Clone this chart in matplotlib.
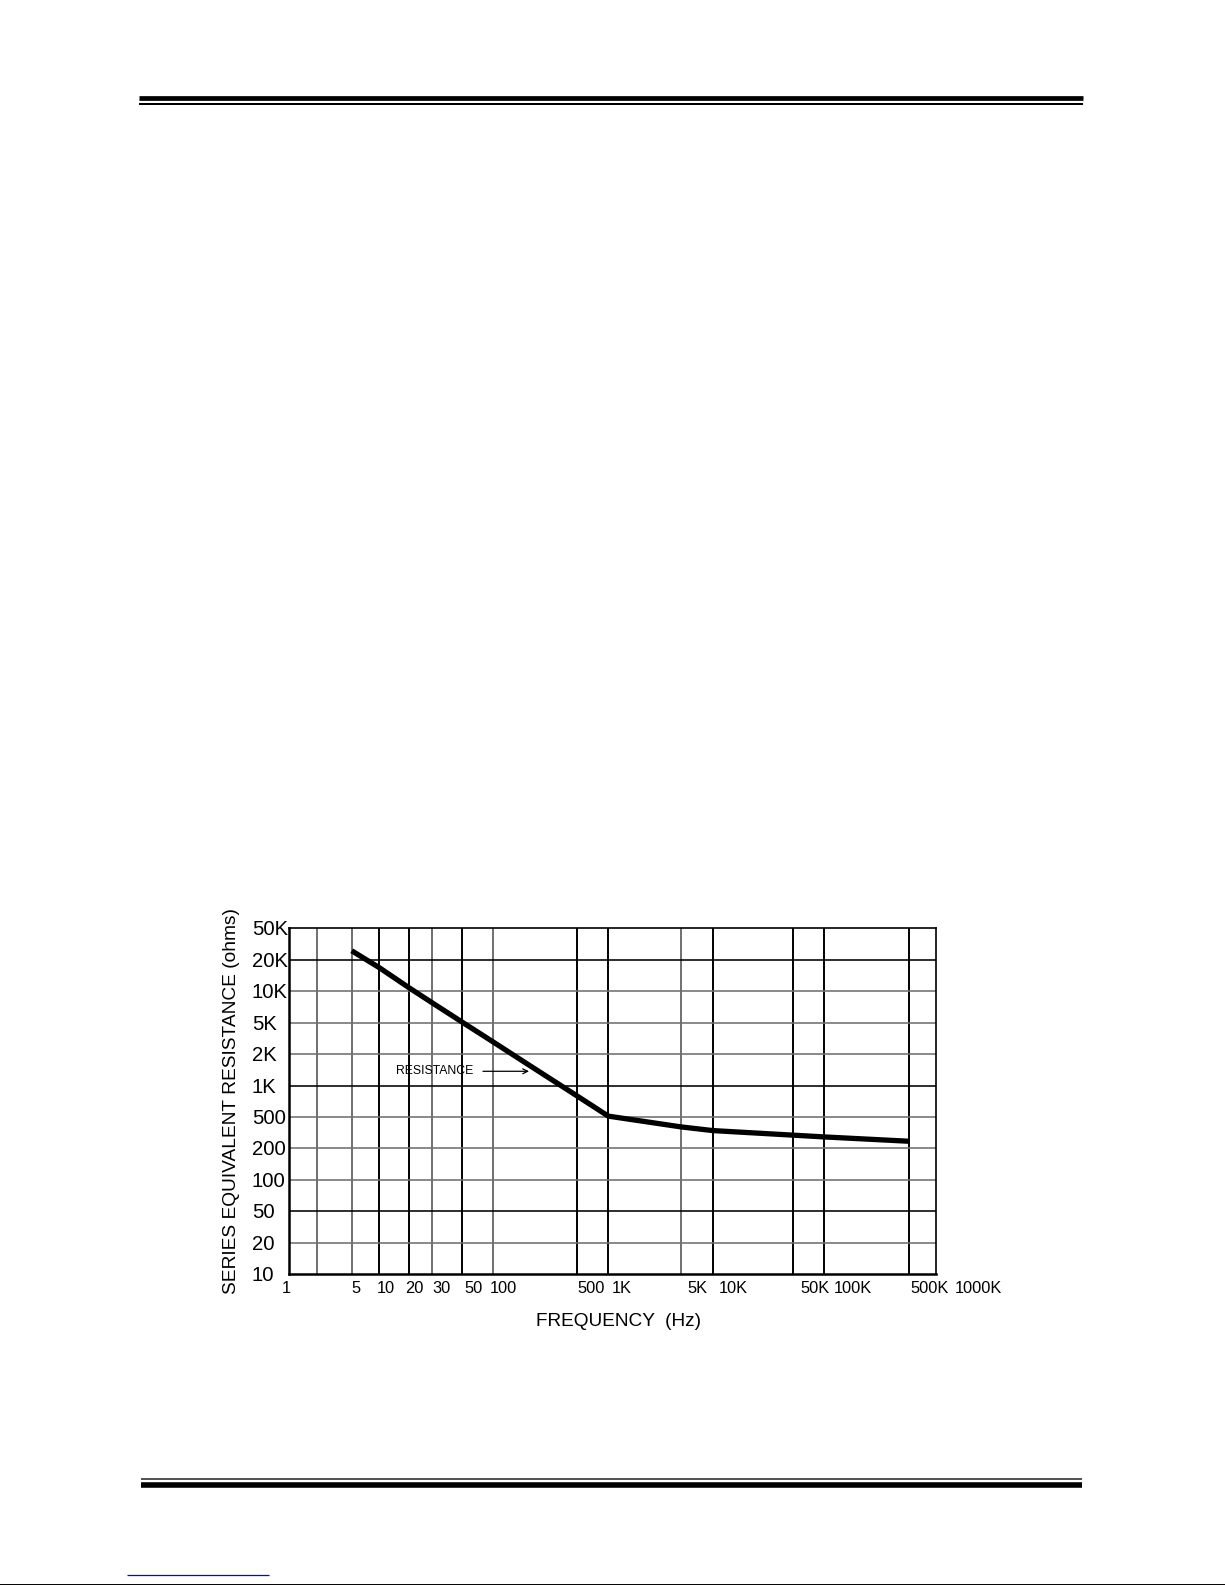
import numpy as np
import matplotlib
matplotlib.use('Agg')
import matplotlib.pyplot as plt
from matplotlib.lines import Line2D
from matplotlib.scale import FuncScale
from matplotlib import transforms

plt.rcParams['font.family'] = ['Liberation Sans', 'DejaVu Sans']

# resistance curve
freq = [5, 10, 20, 30, 50, 100, 200, 500, 1000, 5000, 10000, 50000, 100000, 500000]
res = [26000, 16800, 10800, 7800, 5050, 2860, 1570, 800, 510, 375, 337, 295, 280, 247]

# y rows are evenly spaced (1-2-5 steps)
y_ticks = [10, 20, 50, 100, 200, 500, 1000, 2000, 5000, 10000, 20000, 50000]
y_labels = ['10', '20', '50', '100', '200', '500', '1K', '2K', '5K', '10K', '20K', '50K']
y_dark = [50, 1000, 20000]

# x grid of the chart paper (not a clean log scale)
x_grid = [1, 2, 5, 10, 20, 30, 50, 100, 500, 1000, 5000, 10000, 50000, 100000, 500000, 1000000]
x_dark = [10, 20, 50, 500, 1000, 10000, 50000, 100000, 500000]
x_ticks = [1, 5, 10, 20, 30, 50, 100, 500, 1000, 5000, 10000, 50000, 100000, 500000, 1000000]
x_labels = ['1', '5', '10', '20', '30', '50', '100', '500', '1K', '5K', '10K', '50K', '100K', '500K', '1000K']

# layout (pixels)
W, H = 1225, 1585
x_grid_px = [0, 27.7, 62.7, 90.3, 120, 142.7, 173.3, 204, 287.7, 319.3, 392, 423.7, 503.7, 535.3, 619.7, 647]
x_label_nudge = [-7, -0.7, -3, -4, 1, 1.7, -3, 0.3, 3.7, 6.5, 5.8, 7.8, 9.4, 1.3, 19]


def fx(px):
    return px / W


def fy(py):
    return 1 - py / H


lx = np.log10(x_grid)
px_frac = np.array(x_grid_px) / 647.0
ly = np.log10(y_ticks)
row = np.arange(len(y_ticks))


def xf(v):
    return np.interp(np.log10(np.clip(v, 1e-9, None)), lx, px_frac)


def xi(u):
    return 10 ** np.interp(u, px_frac, lx)


def yf(v):
    return np.interp(np.log10(np.clip(v, 1e-9, None)), ly, row)


def yi(u):
    return 10 ** np.interp(u, row, ly)


fig = plt.figure(figsize=(W / 100, H / 100), dpi=100)
ax = fig.add_axes([fx(289), fy(1274.3), fx(647), 346 / H])
ax.set_xscale(FuncScale(ax.xaxis, (xf, xi)))
ax.set_yscale(FuncScale(ax.yaxis, (yf, yi)))
ax.set_xlim(1, 1000000)
ax.set_ylim(10, 50000)

gray = '#707070'
for g in x_grid[1:-1]:
    ax.axvline(g, color='black' if g in x_dark else gray, lw=1.4, zorder=1)
for g in y_ticks[1:-1]:
    ax.axhline(g, color='black' if g in y_dark else gray, lw=1.15, zorder=1)

ax.plot(freq, res, color='black', lw=3.8, solid_capstyle='butt', solid_joinstyle='round', zorder=3)

ax.annotate('RESISTANCE', xy=(200, 1370), xytext=(-68, 0), textcoords='offset points',
            ha='center', va='center', fontsize=8.8,
            arrowprops=dict(arrowstyle='->', lw=0.9, color='black', shrinkA=5, shrinkB=0))

ax.set_xticks([])
ax.set_yticks([])
ax.xaxis.set_minor_locator(matplotlib.ticker.NullLocator())
ax.yaxis.set_minor_locator(matplotlib.ticker.NullLocator())

# y labels are left aligned in a column left of the grid
yblend = transforms.blended_transform_factory(ax.transAxes, ax.transData)
for t, lab in zip(y_ticks, y_labels):
    tr = yblend + transforms.ScaledTranslation(-37.3 / 100, -1.5 / 100, fig.dpi_scale_trans)
    ax.text(0, t, lab, transform=tr, ha='left', va='center', fontsize=14.6)

xblend = transforms.blended_transform_factory(ax.transData, ax.transAxes)
for t, lab, dx in zip(x_ticks, x_labels, x_label_nudge):
    tr = xblend + transforms.ScaledTranslation(dx / 100, -6.5 / 100, fig.dpi_scale_trans)
    ax.text(t, 0, lab, transform=tr, ha='left', va='top', fontsize=11.8)

for s in ['left', 'bottom']:
    ax.spines[s].set_linewidth(1.8)
for s in ['top', 'right']:
    ax.spines[s].set_linewidth(1.2)

fig.text(fx(618), fy(1322), 'FREQUENCY  (Hz)', ha='center', va='center', fontsize=13.7)
fig.text(fx(231), fy(1101), 'SERIES EQUIVALENT RESISTANCE (ohms)', rotation=90,
         ha='center', va='center', fontsize=13.8)

# page rules
fig.add_artist(Line2D([fx(139.3), fx(1082.7)], [fy(98.3), fy(98.3)], color='black', lw=3.4, solid_capstyle='butt'))
fig.add_artist(Line2D([fx(139.3), fx(1082.7)], [fy(103.7), fy(103.7)], color='black', lw=1.44, solid_capstyle='butt'))
fig.add_artist(Line2D([fx(140.7), fx(1082)], [fy(1479), fy(1479)], color='#555555', lw=1.44, solid_capstyle='butt'))
fig.add_artist(Line2D([fx(140.7), fx(1082)], [fy(1484.5), fy(1484.5)], color='black', lw=4.0, solid_capstyle='butt'))
fig.add_artist(Line2D([fx(127), fx(269)], [fy(1575.3), fy(1575.3)], color='#0000ee', lw=0.9, solid_capstyle='butt'))
fig.add_artist(Line2D([0, 1], [fy(1584.3), fy(1584.3)], color='black', lw=0.7))

fig.savefig('out.png', dpi=100)
